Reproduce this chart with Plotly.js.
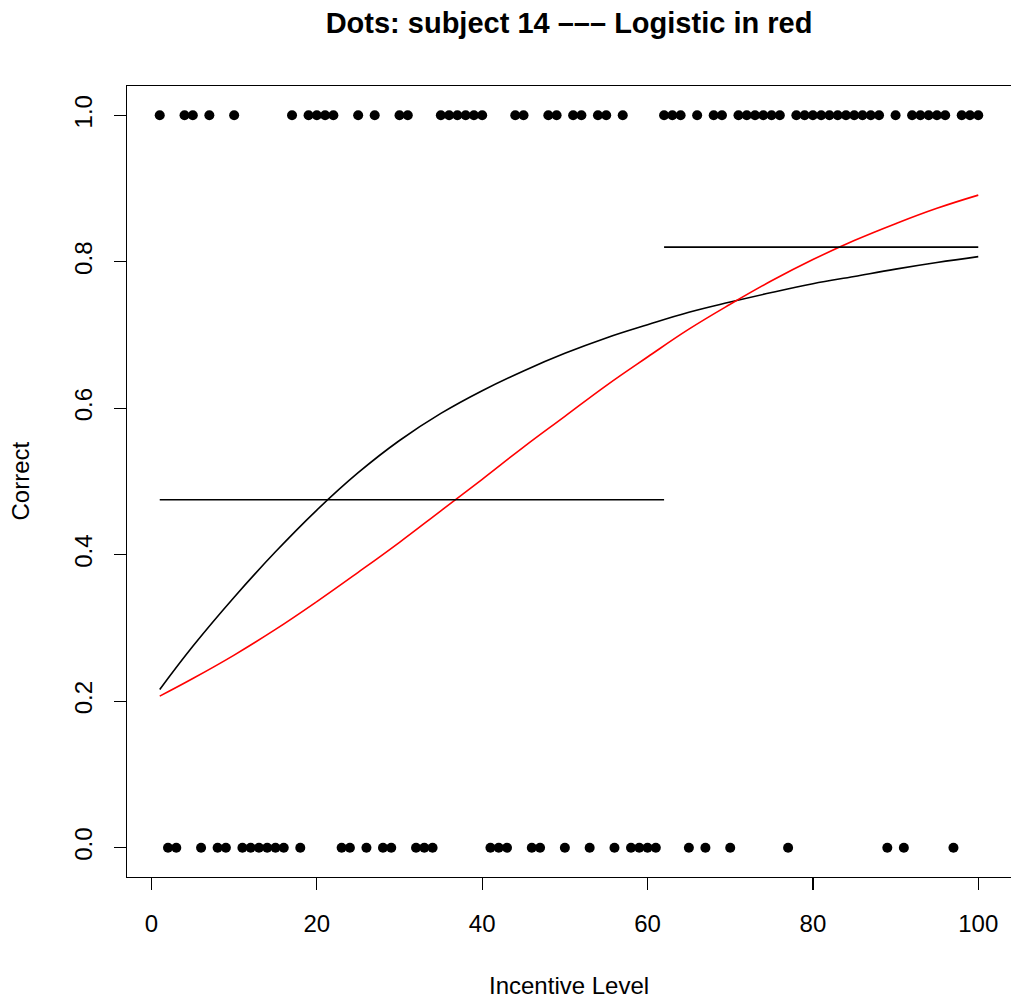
<!DOCTYPE html>
<html>
<head>
<meta charset="utf-8">
<script src="https://cdn.plot.ly/plotly-3.0.1.min.js"></script>
<style>html,body{margin:0;padding:0;background:#fff;}#chart{width:1011px;height:1002px;}</style>
</head>
<body>
<div id="chart"></div>
<script>
// Observed responses (1 = correct, 0 = incorrect) by incentive level
const correctX = [1,4,5,7,10,17,19,20,21,22,25,27,30,31,35,36,37,38,39,40,44,45,48,49,51,52,54,55,57,62,63,64,66,68,69,71,72,73,74,75,76,78,79,80,81,82,83,84,85,86,87,88,90,92,93,94,95,96,98,99,100];
const wrongX = [2,3,6,8,9,11,12,13,14,15,16,18,23,24,26,28,29,32,33,34,41,42,43,46,47,50,53,56,58,59,60,61,65,67,70,77,89,91,97];

// Step (group mean) segments
const stepX1 = [1, 62];
const stepX2 = [62, 100];
const stepY = [0.475, 0.82];

// Curve sample positions
const curveX = [1,5,10,15,20,25,30,35,40,45,50,55,60,65,70,75,80,85,90,95,100];
// Black fitted curve
const blackY = [0.216,0.275,0.342,0.404,0.461,0.512,0.556,0.593,0.624,0.651,0.675,0.696,0.714,0.731,0.745,0.758,0.770,0.780,0.790,0.799,0.807];
// Red logistic curve
const redY = [0.207,0.231,0.263,0.298,0.336,0.376,0.417,0.460,0.503,0.547,0.589,0.631,0.670,0.708,0.742,0.774,0.803,0.829,0.852,0.873,0.891];

const xTicks = [0,20,40,60,80,100];
const yTicks = [0.0,0.2,0.4,0.6,0.8,1.0];
const yTickText = ["0.0","0.2","0.4","0.6","0.8","1.0"];

const FONT = "Liberation Sans, Arial, Helvetica, sans-serif";

const traces = [
  {x: correctX, y: correctX.map(()=>1), mode:'markers', type:'scatter',
   marker:{color:'#000', size:10}, hoverinfo:'skip'},
  {x: wrongX, y: wrongX.map(()=>0), mode:'markers', type:'scatter',
   marker:{color:'#000', size:10}, hoverinfo:'skip'},
  {x: curveX, y: blackY, mode:'lines', type:'scatter',
   line:{color:'#000', width:1.6, shape:'spline', smoothing:1.2}},
  {x: curveX, y: redY, mode:'lines', type:'scatter',
   line:{color:'#ff0000', width:1.6, shape:'spline', smoothing:1.2}}
];
for (let i = 0; i < stepY.length; i++) {
  traces.push({x:[stepX1[i], stepX2[i]], y:[stepY[i], stepY[i]], mode:'lines', type:'scatter',
    line:{color:'#000', width:1.6}});
}

const layout = {
  width:1011, height:1002,
  showlegend:false,
  paper_bgcolor:'#fff', plot_bgcolor:'#fff',
  margin:{l:127, r:0, t:86, b:125},
  font:{family:FONT, color:'#000', size:24},
  title:{text:'<b>Dots: subject 14 ––– Logistic in red</b>', x:0.5, xref:'paper', y:0.977, yanchor:'middle',
    font:{family:FONT, size:29, color:'#000'}},
  xaxis:{range:[-2.96,103.96], tickvals:xTicks, ticktext:xTicks.map(String), ticks:'outside', ticklen:12, tickwidth:1.2,
    tickcolor:'#000', showgrid:false, zeroline:false, showline:true, linecolor:'#000', linewidth:1.2, mirror:true,
    ticklabelstandoff:13, tickfont:{size:24, family:FONT}},
  yaxis:{range:[-0.04,1.04], tickvals:yTicks, ticktext:yTickText, ticks:'outside', ticklen:12, tickwidth:1.2,
    tickcolor:'#000', showgrid:false, zeroline:false, showline:true, linecolor:'#000', linewidth:1.2, mirror:true,
    tickangle:-90, ticklabelstandoff:12, tickfont:{size:24, family:FONT}},
  annotations:[
    {text:'Incentive Level', xref:'paper', yref:'paper', x:0.5, y:0, yanchor:'middle', yshift:-108, showarrow:false,
     font:{size:24, family:FONT}},
    {text:'Correct', xref:'paper', yref:'paper', x:0, y:0.5, xanchor:'center', xshift:-107, textangle:-90, showarrow:false,
     font:{size:24, family:FONT}}
  ]
};

Plotly.newPlot('chart', traces, layout, {displayModeBar:false, staticPlot:true});
</script>
</body>
</html>
